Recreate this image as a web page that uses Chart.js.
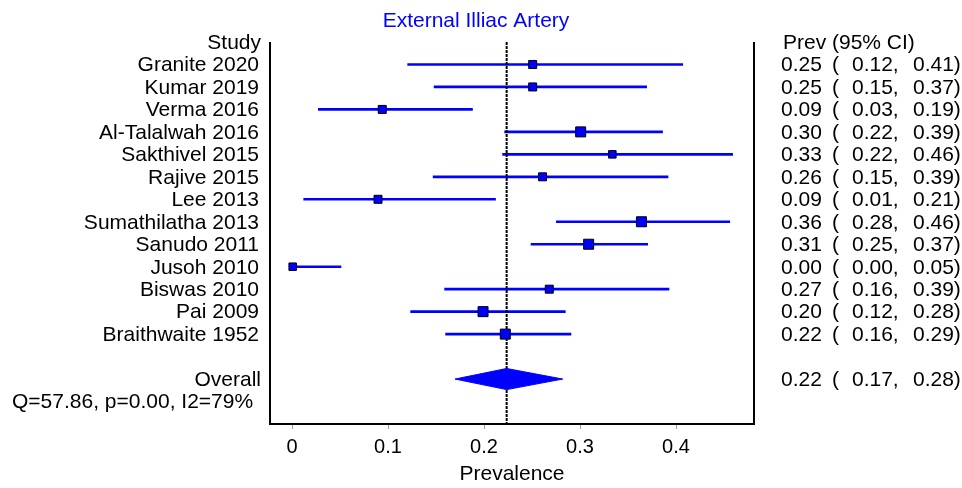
<!DOCTYPE html>
<html>
<head>
<meta charset="utf-8">
<script src="https://cdn.jsdelivr.net/npm/chart.js@4.4.1/dist/chart.umd.min.js"></script>
<style>
  html, body { margin: 0; padding: 0; background: #ffffff; }
  #wrap { width: 962px; height: 488px; }
</style>
</head>
<body>
<div id="wrap"><canvas id="c" width="962" height="488"></canvas></div>
<script>
// ---------------- data ----------------
const chartTitle = "External Illiac Artery";
const studies = ["Granite 2020", "Kumar 2019", "Verma 2016", "Al-Talalwah 2016", "Sakthivel 2015",
  "Rajive 2015", "Lee 2013", "Sumathilatha 2013", "Sanudo 2011", "Jusoh 2010", "Biswas 2010",
  "Pai 2009", "Braithwaite 1952"];
const prev   = [0.2507, 0.2507, 0.094, 0.3007, 0.3337, 0.261, 0.0896, 0.364, 0.309, 0.0007, 0.268, 0.199, 0.2222];
const ciLow  = [0.1205, 0.148, 0.0274, 0.2215, 0.2194, 0.147, 0.0122, 0.2753, 0.249, 0.0, 0.159, 0.1236, 0.160];
const ciHigh = [0.407, 0.3694, 0.188, 0.386, 0.459, 0.3917, 0.212, 0.456, 0.3705, 0.051, 0.3927, 0.2847, 0.2906];
const overall = [0.2236, 0.1698, 0.282];   // estimate, low, high
const heterogeneity = "Q=57.86, p=0.00, I2=79%";
const xTicks = [0, 0.1, 0.2, 0.3, 0.4];
const xTickLabels = ["0", "0.1", "0.2", "0.3", "0.4"];
const xTitle = "Prevalence";
const headerLeft = "Study";
const headerRight = "Prev (95% CI)";
const overallLabel = "Overall";

// ---------------- style ----------------
const markerSide = [8, 8, 8, 10, 7.5, 8, 8, 10, 10, 7.5, 8, 10, 10];
const BLUE = "#0000ff";
const FONT = '21px "Liberation Sans", Arial, sans-serif';
const overallRow = studies.length + 2;
const qRow = overallRow + 1;
const diamondHalf = 0.47;

const ciData = studies.map((s, i) => ({ x: [ciLow[i], ciHigh[i]], y: i + 1 }));
const ptData = studies.map((s, i) => ({ x: prev[i], y: i + 1 }));

const textPlugin = {
  id: "forestText",
  afterDraw(chart) {
    const { ctx, chartArea: a, scales } = chart;
    const ys = scales.y;
    ctx.save();
    // frame side lines
    ctx.strokeStyle = "#000";
    ctx.lineWidth = 2;
    ctx.beginPath();
    ctx.moveTo(a.left, a.top); ctx.lineTo(a.left, a.bottom);
    ctx.moveTo(a.right, a.top); ctx.lineTo(a.right, a.bottom);
    ctx.stroke();

    ctx.font = FONT;
    ctx.textBaseline = "middle";
    // title
    ctx.fillStyle = BLUE;
    ctx.textAlign = "center";
    ctx.fillText(chartTitle, 476, 21);

    ctx.fillStyle = "#000";
    // left column
    ctx.textAlign = "right";
    const lx = 261;
    ctx.fillText(headerLeft, lx, ys.getPixelForValue(0) + 1);
    studies.forEach((s, i) => ctx.fillText(s, lx - 2, ys.getPixelForValue(i + 1) + 1));
    ctx.fillText(overallLabel, lx, ys.getPixelForValue(overallRow) + 1);
    ctx.textAlign = "left";
    ctx.fillText(heterogeneity, 12, ys.getPixelForValue(qRow) + 1);

    // right column
    ctx.fillText(headerRight, 783, ys.getPixelForValue(0) + 1);
    const drawRow = (e, l, h, row) => {
      const y = ys.getPixelForValue(row) + 1;
      ctx.fillText(e.toFixed(2), 781, y);
      ctx.fillText("(", 832, y);
      ctx.fillText(l.toFixed(2) + ",", 852, y);
      ctx.fillText(h.toFixed(2) + ")", 913, y);
    };
    studies.forEach((s, i) => drawRow(prev[i], ciLow[i], ciHigh[i], i + 1));
    drawRow(overall[0], overall[1], overall[2], overallRow);
    ctx.restore();
  }
};

new Chart(document.getElementById("c"), {
  type: "scatter",
  data: {
    datasets: [
      {
        type: "bar", indexAxis: "y", data: ciData,
        backgroundColor: BLUE, borderWidth: 0, barThickness: 2, order: 3
      },
      {
        type: "scatter", data: ptData, pointStyle: "rect",
        pointRadius: markerSide.map(s => s / Math.SQRT2),
        backgroundColor: BLUE, borderColor: "#000", borderWidth: 1, order: 1
      },
      {
        type: "line", indexAxis: "x",
        data: [{ x: overall[0], y: 0 }, { x: overall[0], y: qRow + 1 }],
        borderColor: "#000", borderWidth: 2, borderDash: [3, 1], pointRadius: 0, fill: false, order: 2
      },
      {
        type: "line", indexAxis: "x",
        data: [{ x: overall[1], y: overallRow }, { x: overall[0], y: overallRow - diamondHalf }, { x: overall[2], y: overallRow }],
        borderColor: BLUE, backgroundColor: BLUE, borderWidth: 1, pointRadius: 0, tension: 0, fill: "+1", order: 0
      },
      {
        type: "line", indexAxis: "x",
        data: [{ x: overall[1], y: overallRow }, { x: overall[0], y: overallRow + diamondHalf }, { x: overall[2], y: overallRow }],
        borderColor: BLUE, backgroundColor: BLUE, borderWidth: 1, pointRadius: 0, tension: 0, fill: false, order: 0
      }
    ]
  },
  options: {
    responsive: false,
    animation: false,
    events: [],
    layout: { padding: { left: 270, right: 208, top: 42, bottom: 0 } },
    plugins: { legend: { display: false }, tooltip: { enabled: false }, title: { display: false } },
    scales: {
      x: {
        type: "linear", position: "bottom", offset: false,
        min: (270 - 292) / 960, max: (754 - 292) / 960,
        afterBuildTicks: (s) => { s.ticks = xTicks.map(v => ({ value: v })); },
        afterFit: (s) => { s.height = 64; },
        ticks: {
          color: "#000", font: { family: '"Liberation Sans", Arial, sans-serif', size: 20 },
          padding: 6, maxRotation: 0, autoSkip: false,
          callback: (v) => { const k = xTicks.indexOf(v); return k >= 0 ? xTickLabels[k] : ""; }
        },
        grid: { drawOnChartArea: false, drawTicks: true, tickLength: 5, color: "#999", offset: false },
        border: { display: true, color: "#000", width: 2 },
        title: {
          display: true, text: xTitle, color: "#000",
          font: { family: '"Liberation Sans", Arial, sans-serif', size: 21 },
          padding: { top: 0, bottom: 1 }
        }
      },
      y: {
        type: "linear", reverse: true, min: 0, max: qRow + 1, display: false,
        offset: false, grid: { offset: false }
      }
    }
  },
  plugins: [textPlugin]
});
</script>
</body>
</html>
